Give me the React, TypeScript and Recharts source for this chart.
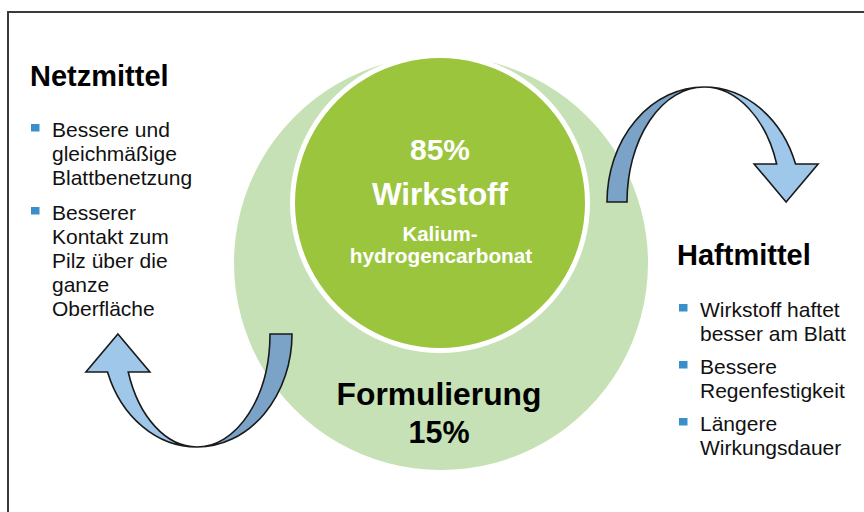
import React from 'react';
import { PieChart, Pie, Cell, Customized } from 'recharts';

// ---- data ----
const components = ['Wirkstoff', 'Formulierung'];
const shares = [85, 15];
const activeIngredient = ['Kalium-', 'hydrogencarbonat'];

const netzmittelTitle = 'Netzmittel';
const netzmittelPoints = [
  ['Bessere und', 'gleichmäßige', 'Blattbenetzung'],
  ['Besserer', 'Kontakt zum', 'Pilz über die', 'ganze', 'Oberfläche'],
];
const haftmittelTitle = 'Haftmittel';
const haftmittelPoints = [
  ['Wirkstoff haftet', 'besser am Blatt'],
  ['Bessere', 'Regenfestigkeit'],
  ['Längere', 'Wirkungsdauer'],
];

const W = 864;
const H = 512;
const FONT = '"Liberation Sans", Arial, Helvetica, sans-serif';
const LIGHT_GREEN = '#c6e1b5';
const DARK_GREEN = '#9ac53d';
const BULLET = '#3a8fcb';
const ARROW_DARK = '#7ba3c8';
const ARROW_LIGHT = '#9fc7e9';

const outerData = [{ name: 'Produkt', value: shares[0] + shares[1] }];
const innerData = [{ name: components[0], value: shares[0] }];

type ArrowSpec = {
  cx: number; cy: number; ry: number; rxOut: number; rxIn: number;
  dir: 'up' | 'down'; headY: number; headHalf: number; tipY: number;
};

const ell = (a: ArrowSpec, rx: number, y: number, side: number) =>
  a.cx + side * rx * Math.sqrt(Math.max(0, 1 - ((y - a.cy) / a.ry) ** 2));

function arrowPaths(a: ArrowSpec) {
  if (a.dir === 'up') {
    const top = a.cy - a.ry;
    const dark = `M ${a.cx - a.rxOut} ${a.cy} A ${a.rxOut} ${a.ry} 0 0 1 ${a.cx} ${top} A ${a.rxIn} ${a.ry} 0 0 0 ${a.cx - a.rxIn} ${a.cy} Z`;
    const xo = ell(a, a.rxOut, a.headY, 1);
    const xi = ell(a, a.rxIn, a.headY, 1);
    const mid = (xo + xi) / 2;
    const light = `M ${a.cx} ${top} A ${a.rxOut} ${a.ry} 0 0 1 ${xo} ${a.headY} L ${mid + a.headHalf} ${a.headY} L ${mid} ${a.tipY} L ${mid - a.headHalf} ${a.headY} L ${xi} ${a.headY} A ${a.rxIn} ${a.ry} 0 0 0 ${a.cx} ${top} Z`;
    return { dark, light };
  }
  const bottom = a.cy + a.ry;
  const dark = `M ${a.cx + a.rxOut} ${a.cy} A ${a.rxOut} ${a.ry} 0 0 1 ${a.cx} ${bottom} A ${a.rxIn} ${a.ry} 0 0 0 ${a.cx + a.rxIn} ${a.cy} Z`;
  const xo = ell(a, a.rxOut, a.headY, -1);
  const xi = ell(a, a.rxIn, a.headY, -1);
  const mid = (xo + xi) / 2;
  const light = `M ${a.cx} ${bottom} A ${a.rxOut} ${a.ry} 0 0 1 ${xo} ${a.headY} L ${mid - a.headHalf} ${a.headY} L ${mid} ${a.tipY} L ${mid + a.headHalf} ${a.headY} L ${xi} ${a.headY} A ${a.rxIn} ${a.ry} 0 0 0 ${a.cx} ${bottom} Z`;
  return { dark, light };
}

const arrows: ArrowSpec[] = [
  { cx: 704, cy: 202, ry: 115, rxOut: 97, rxIn: 77, dir: 'up', headY: 164, headHalf: 32, tipY: 202 },
  { cx: 197, cy: 334, ry: 113, rxOut: 95, rxIn: 73, dir: 'down', headY: 372, headHalf: 32, tipY: 334 },
];

const Arrows = () => (
  <g>
    {arrows.map((a, i) => {
      const p = arrowPaths(a);
      return (
        <g key={i} stroke="#1a1a1a" strokeWidth={1.6} strokeLinejoin="miter">
          <path d={p.dark} fill={ARROW_DARK} />
          <path d={p.light} fill={ARROW_LIGHT} />
        </g>
      );
    })}
  </g>
);

const BulletList = ({ x, y0, groups, groupGap }: { x: number; y0: number; groups: string[][]; groupGap: number }) => {
  const items: React.ReactNode[] = [];
  let y = y0;
  groups.forEach((g, gi) => {
    items.push(<rect key={`b${gi}`} x={x} y={y - 13} width={8.5} height={7.5} fill={BULLET} />);
    g.forEach((line, li) => {
      items.push(
        <text key={`t${gi}-${li}`} x={x + 21} y={y + li * 24} fontSize={21} fontFamily={FONT} fill="#111">
          {line}
        </text>
      );
    });
    y += (g.length - 1) * 24 + groupGap;
  });
  return <g>{items}</g>;
};

const Frame = () => (
  <rect x={8} y={12} width={900} height={600} fill="none" stroke="#3a3a3a" strokeWidth={2} />
);

const Texts = () => (
  <g>
    <text x={30} y={86} fontSize={29} fontWeight="bold" fontFamily={FONT} fill="#000">{netzmittelTitle}</text>
    <BulletList x={31} y0={137} groups={netzmittelPoints} groupGap={35} />
    <text x={677} y={265} fontSize={29} fontWeight="bold" fontFamily={FONT} fill="#000">{haftmittelTitle}</text>
    <BulletList x={679} y0={317} groups={haftmittelPoints} groupGap={33} />
    <g fontFamily={FONT} fontWeight="bold" textAnchor="middle">
      <text x={440} y={160} fontSize={30} fill="#fff">{`${shares[0]}%`}</text>
      <text x={440} y={205} fontSize={31.5} fill="#fff">{components[0]}</text>
      <text x={440} y={241} fontSize={20.5} fill="#fff">{activeIngredient[0]}</text>
      <text x={441} y={263} fontSize={20.8} fill="#fff">{activeIngredient[1]}</text>
      <text x={439} y={405} fontSize={31.8} fill="#000">{components[1]}</text>
      <text x={439} y={443} fontSize={30.5} fill="#000">{`${shares[1]}%`}</text>
    </g>
  </g>
);

export default function App() {
  return (
    <div style={{ position: 'absolute', left: 0, top: 0, width: W, height: H, background: '#fff' }}>
      <div style={{ position: 'absolute', left: 0, top: 0 }}>
        <PieChart width={W} height={H} margin={{ top: 0, right: 0, bottom: 0, left: 0 }}>
          <Customized component={<Frame />} />
          <Pie
            data={outerData}
            dataKey="value"
            cx={441}
            cy={263}
            outerRadius={207}
            innerRadius={0}
            startAngle={90}
            endAngle={-270}
            stroke="none"
            isAnimationActive={false}
          >
            {outerData.map((d) => (
              <Cell key={d.name} fill={LIGHT_GREEN} stroke="none" />
            ))}
          </Pie>
          <Pie
            data={innerData}
            dataKey="value"
            cx={440}
            cy={203}
            outerRadius={150}
            innerRadius={0}
            startAngle={90}
            endAngle={-270}
            stroke="none"
            isAnimationActive={false}
          >
            {innerData.map((d) => (
              <Cell key={d.name} fill="#ffffff" stroke="none" />
            ))}
          </Pie>
          <Pie
            data={innerData}
            dataKey="value"
            cx={440}
            cy={203}
            outerRadius={145}
            innerRadius={0}
            startAngle={90}
            endAngle={-270}
            stroke="none"
            isAnimationActive={false}
          >
            {innerData.map((d) => (
              <Cell key={d.name} fill={DARK_GREEN} stroke="none" />
            ))}
          </Pie>
        </PieChart>
      </div>
      <div style={{ position: 'absolute', left: 0, top: 0 }}>
        <PieChart width={W} height={H} margin={{ top: 0, right: 0, bottom: 0, left: 0 }}>
          <Customized component={<Arrows />} />
          <Customized component={<Texts />} />
        </PieChart>
      </div>
    </div>
  );
}
